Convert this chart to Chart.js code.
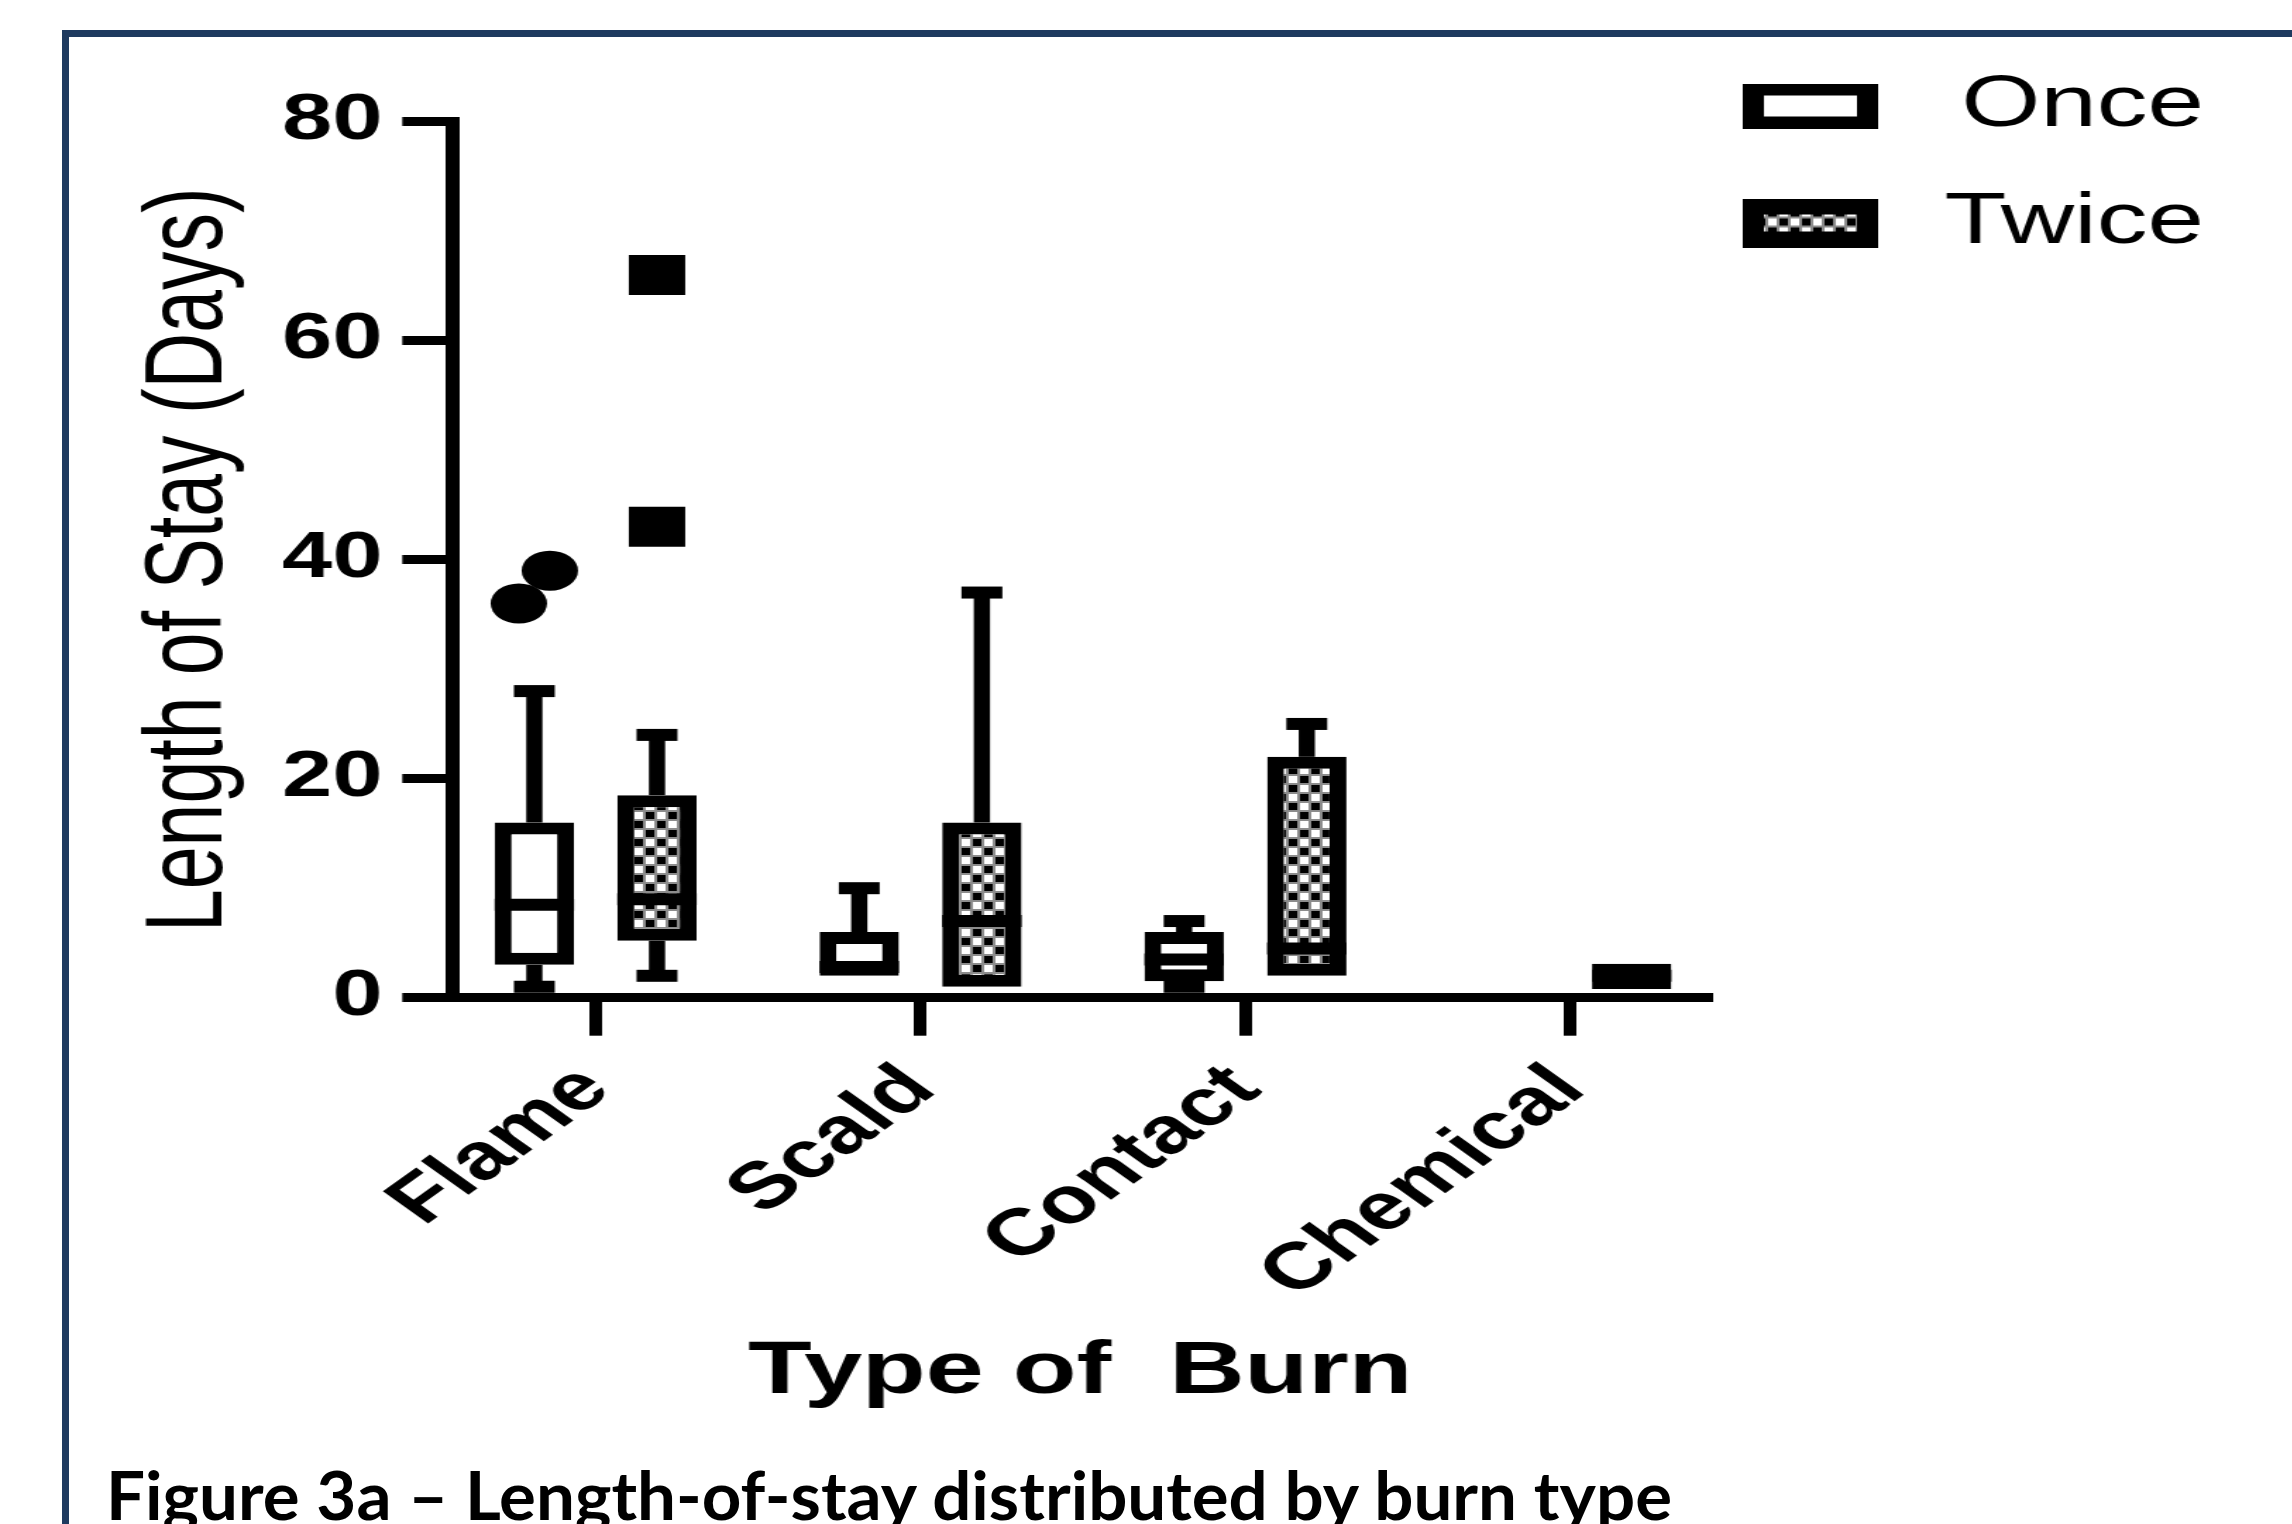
<!DOCTYPE html>
<html>
<head>
<meta charset="utf-8">
<script src="https://cdn.jsdelivr.net/npm/chart.js@4.4.1/dist/chart.umd.min.js"></script>
<style>
  html, body { margin: 0; padding: 0; background: #fff; }
  body { position: relative; width: 2292px; height: 1524px; overflow: hidden; }
  #frame {
    position: absolute; left: 62px; top: 30px; width: 4000px; height: 4000px;
    border-left: 7px solid #1e3a5f; border-top: 7px solid #1e3a5f;
  }
  /* the original graph is a horizontally stretched export, so stretch the canvas the same way */
  #burnChart { position: absolute; left: 0; top: 0; transform: scaleX(1.41); transform-origin: 0 0; }
  #caption {
    position: absolute; left: 106px; top: 1461px; white-space: nowrap;
    font: 700 67px Lato, "Open Sans", sans-serif; line-height: 67px; color: #000;
  }
  #caption span { display: inline-block; transform-origin: 0 50%; }
</style>
</head>
<body>
<div id="frame"></div>
<canvas id="burnChart" width="1563" height="1420"></canvas>
<div id="caption"><span>Figure 3a – Length-of-stay distributed by burn type</span></div>
<script>
const categories = ['Flame', 'Scald', 'Contact', 'Chemical'];
const seriesNames = ['Once', 'Twice'];
const yTicks = [0, 20, 40, 60, 80];

// box plot values, days
const onceMin = [1, 2, 1, null];
const onceQ1 = [3, 2, 1.5, null];
const onceMedian = [8.5, 2.8, 3.5, null];
const onceQ3 = [16, 6, 6, null];
const onceMax = [28, 10, 7, null];
const onceOutliers = [[36, 39], [], [], []];

const twiceMin = [2, 1, 2, 1];
const twiceQ1 = [5.2, 1, 2, 0.8];
const twiceMedian = [9, 7, 4.5, 2];
const twiceQ3 = [18.5, 16, 22, 3.1];
const twiceMax = [24, 37, 25, 3];
const twiceOutliers = [[43, 66], [], [], []];

Chart.defaults.font.family = '"Liberation Sans", Arial, sans-serif';
Chart.defaults.color = '#000';

// checkered fill used for the "Twice" boxes
function makeTile() {
  const c = document.createElement('canvas');
  c.width = 16; c.height = 18;
  const g = c.getContext('2d');
  g.fillStyle = '#8c8c8c';
  g.fillRect(0, 0, 16, 18);
  [[0, 0, '#fff'], [8, 0, '#000'], [0, 9, '#000'], [8, 9, '#fff']].forEach(([x, y, col]) => {
    g.fillStyle = col;
    g.fillRect(x + 2, y + 2, 6, 7);
  });
  return c;
}

// legend swatch; the transparent strip on the right pulls the swatch left of its slot centre
function makeIcon(h, inset, fill) {
  const c = document.createElement('canvas');
  c.width = 117; c.height = h;
  const g = c.getContext('2d');
  g.fillStyle = '#000';
  g.fillRect(0, 0, 96, h);
  g.fillStyle = fill === 'pattern' ? g.createPattern(makeTile(), 'repeat') : fill;
  g.fillRect(15, inset, 66, h - 2 * inset);
  return c;
}

const canvas = document.getElementById('burnChart');
const ctx = canvas.getContext('2d');
const checker = ctx.createPattern(makeTile(), 'repeat');
const legendIcons = [makeIcon(45, 12, '#fff'), makeIcon(49, 16, 'pattern')];

const groups = [
  { min: onceMin, q1: onceQ1, median: onceMedian, q3: onceQ3, max: onceMax, outliers: onceOutliers, shape: 'circle' },
  { min: twiceMin, q1: twiceQ1, median: twiceMedian, q3: twiceQ3, max: twiceMax, outliers: twiceOutliers, shape: 'square' }
];

// whiskers, caps, medians and outliers on top of the floating bars
const boxPlotParts = {
  id: 'boxPlotParts',
  afterDatasetsDraw(chart) {
    const y = chart.scales.y;
    const c = chart.ctx;
    groups.forEach((g, d) => {
      chart.getDatasetMeta(d).data.forEach((bar, i) => {
        if (g.median[i] == null) return;
        const x = bar.x;
        const w = bar.width;
        c.save();
        c.strokeStyle = '#000';
        c.fillStyle = '#000';
        c.lineCap = 'butt';

        [[g.q3[i], g.max[i], 1], [g.q1[i], g.min[i], -1]].forEach(([edge, end, dir]) => {
          if ((end - edge) * dir <= 0) return;
          const pe = y.getPixelForValue(end);
          c.lineWidth = 11.5;
          c.beginPath();
          c.moveTo(x, y.getPixelForValue(edge));
          c.lineTo(x, pe);
          c.stroke();
          c.lineWidth = 12;
          c.beginPath();
          c.moveTo(x - 14.5, pe);
          c.lineTo(x + 14.5, pe);
          c.stroke();
        });

        const pm = y.getPixelForValue(g.median[i]);
        c.lineWidth = 12;
        c.beginPath();
        c.moveTo(x - w / 2, pm);
        c.lineTo(x + w / 2, pm);
        c.stroke();

        const pts = g.outliers[i];
        pts.forEach((v, k) => {
          const close = pts.some((o, j) => j !== k && Math.abs(o - v) < 5);
          const ox = close ? x + (k - (pts.length - 1) / 2) * 22 : x;
          const oy = y.getPixelForValue(v);
          c.beginPath();
          if (g.shape === 'circle') c.arc(ox, oy, 20, 0, Math.PI * 2);
          else c.rect(ox - 20, oy - 20, 40, 40);
          c.fill();
        });
        c.restore();
      });
    });
  }
};

new Chart(ctx, {
  type: 'bar',
  data: {
    datasets: [
      {
        label: seriesNames[0],
        data: categories.map((cat, i) => ({ x: i + 1, y: onceQ1[i] == null ? null : [onceQ1[i], onceQ3[i]] })),
        backgroundColor: '#fff',
        borderColor: '#000',
        borderWidth: 12,
        borderSkipped: false,
        xAxisID: 'x',
        yAxisID: 'y'
      },
      {
        label: seriesNames[1],
        data: categories.map((cat, i) => ({ x: i + 1, y: twiceQ1[i] == null ? null : [twiceQ1[i], twiceQ3[i]] })),
        backgroundColor: checker,
        borderColor: '#000',
        borderWidth: 12,
        borderSkipped: false,
        xAxisID: 'x',
        yAxisID: 'y'
      }
    ]
  },
  options: {
    responsive: false,
    animation: false,
    events: [],
    layout: { padding: { top: 25, left: 0, right: 0, bottom: 0 } },
    datasets: { bar: { categoryPercentage: 0.755, barPercentage: 0.647 } },
    scales: {
      x: {
        type: 'linear',
        min: 0.561,
        max: 4.422,
        offset: false,
        afterBuildTicks: s => { s.ticks = categories.map((cat, i) => ({ value: i + 1 })); },
        afterFit: s => { s.height = 422.3; },
        grid: { drawOnChartArea: false, tickLength: 38, lineWidth: 9, color: '#000', offset: false },
        border: { width: 9, color: '#000' },
        ticks: {
          autoSkip: false, minRotation: 45, maxRotation: 45, padding: 15,
          font: { size: 66, weight: 'bold' },
          callback: v => categories[Math.round(v) - 1]
        },
        title: {
          display: true, text: 'Type of  Burn',
          font: { size: 74, weight: 'bold' },
          padding: { top: 0, bottom: 3.2 }
        }
      },
      y: {
        type: 'linear',
        min: 0,
        max: 80,
        afterBuildTicks: s => { s.ticks = yTicks.map(v => ({ value: v })); },
        afterFit: s => { s.width = 321.3; },
        grid: { drawOnChartArea: false, tickLength: 36, lineWidth: 9, color: '#000' },
        border: { width: 10, color: '#000' },
        ticks: { padding: 14, font: { size: 64, weight: 'bold' } },
        title: {
          display: true, text: 'Length of Stay (Days)',
          font: { size: 77 },
          padding: { top: 89.5, bottom: 0 }
        }
      },
      // empty band above the plot so the legend can sit higher than the axis top
      spacer: {
        type: 'linear',
        position: 'top',
        grid: { display: false },
        border: { display: false },
        ticks: { display: false },
        afterFit: s => { s.height = 96.7; }
      }
    },
    plugins: {
      tooltip: { enabled: false },
      legend: {
        position: 'right',
        align: 'start',
        labels: {
          usePointStyle: true,
          pointStyleWidth: 77,
          padding: 45,
          font: { size: 72 },
          textAlign: 'right',
          generateLabels: chart => chart.data.datasets.map((ds, i) => ({
            text: ds.label,
            pointStyle: legendIcons[i],
            datasetIndex: i,
            fillStyle: '#000',
            strokeStyle: '#000',
            fontColor: '#000',
            lineWidth: 0,
            hidden: false
          }))
        }
      }
    }
  },
  plugins: [boxPlotParts]
});

// caption: Calibri-like bold, fitted to the width it has in the figure
const cap = document.querySelector('#caption span');
cap.style.transform = 'scaleX(' + (1566 / cap.getBoundingClientRect().width) + ')';
</script>
</body>
</html>
